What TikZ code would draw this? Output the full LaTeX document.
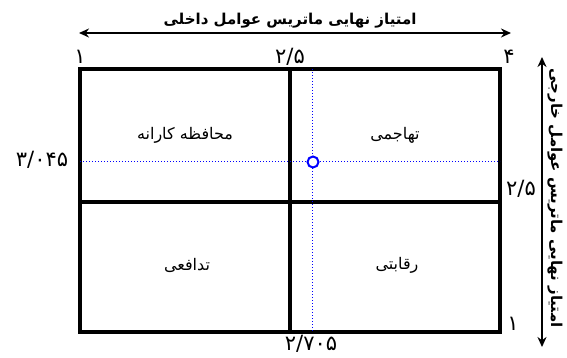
\documentclass[tikz,border=0pt]{standalone}
\usepackage{fontspec}
\usetikzlibrary{positioning,arrows.meta}
\TeXXeTstate=1
\newfontfamily\farsi[Script=Arabic]{DejaVu Sans}
\newcommand{\fa}[1]{\beginR #1\endR}

\begin{document}
\begin{tikzpicture}[x=1pt,y=-1pt,>={Stealth[length=10pt,width=9pt]},font=\farsi\fontsize{16}{18}\selectfont]
			\useasboundingbox (0,0) rectangle (567,358);
			% corners of the matrix
			\coordinate (tl) at (80,69);
			\coordinate (tr) at (500,69);
			\coordinate (bl) at (80,332);
			\coordinate (br) at (500,332);
			\coordinate (tm) at (290,69);
			\coordinate (bm) at (290,332);
			\coordinate (lm) at (80,202);
			\coordinate (rm) at (500,202);
			\coordinate (tp) at (312,69);
			\coordinate (bp) at (312,332);
			\coordinate (lp) at (80,162);
			\coordinate (rp) at (500,162);

			\draw[line width=3.2pt] (tl) rectangle (br);
			\draw[line width=3.2pt] (tm) -- (bm);
			\draw[line width=3.2pt] (lm) -- (rm);

			\draw[blue,dotted,line width=1pt] (tp) -- (bp);
			\draw[blue,dotted,line width=1pt] (lp) -- (rp);
			\node[draw=blue,fill=white,circle,line width=2pt,inner sep=0pt,minimum size=11pt] (pt) at (313,162) {};

			\node[draw=none,fill=none]  (q1)  at (185,135) {\fa{محافظه کارانه}};
			\node[draw=none,fill=none]  (q2)  at (395,135) {\fa{تهاجمی}};
			\node[draw=none,fill=none]  (q3)  at (187,265) {\fa{تدافعی}};
			\node[draw=none,fill=none]  (q4)  at (397,265) {\fa{رقابتی}};

			\node[draw=none,fill=none,font=\farsi\fontsize{21}{23}\selectfont]  (x1)  at (80,57) {۱};
			\node[draw=none,fill=none,font=\farsi\fontsize{21}{23}\selectfont]  (x2)  at (290,57) {۲/۵};
			\node[draw=none,fill=none,font=\farsi\fontsize{21}{23}\selectfont]  (x4)  at (509,57) {۴};
			\node[draw=none,fill=none,font=\farsi\fontsize{21}{23}\selectfont]  (yp)  at (42,160) {۳/۰۴۵};
			\node[draw=none,fill=none,font=\farsi\fontsize{21}{23}\selectfont]  (xp)  at (311,344) {۲/۷۰۵};
			\node[draw=none,fill=none,font=\farsi\fontsize{21}{23}\selectfont]  (y2)  at (521,189) {۲/۵};
			\node[draw=none,fill=none,font=\farsi\fontsize{21}{23}\selectfont]  (y1)  at (513,324) {۱};

			\coordinate (ha) at (79,33);
			\coordinate (hb) at (511,33);
			\coordinate (va) at (542,57);
			\coordinate (vb) at (542,347);
			\draw[<->,line width=1.6pt] (ha) -- (hb);
			\draw[<->,line width=1.6pt] (va) -- (vb);

			\node[draw=none,fill=none,font=\farsi\bfseries\fontsize{15}{17}\selectfont]  (ie)  at (290,21) {\fa{امتیاز نهایی ماتریس عوامل داخلی}};
			\node[draw=none,fill=none,rotate=-90,font=\farsi\bfseries\fontsize{15}{17}\selectfont]  (ee)  at (555,198) {\fa{امتیاز نهایی ماتریس عوامل خارجی}};
		\end{tikzpicture}
\end{document}
